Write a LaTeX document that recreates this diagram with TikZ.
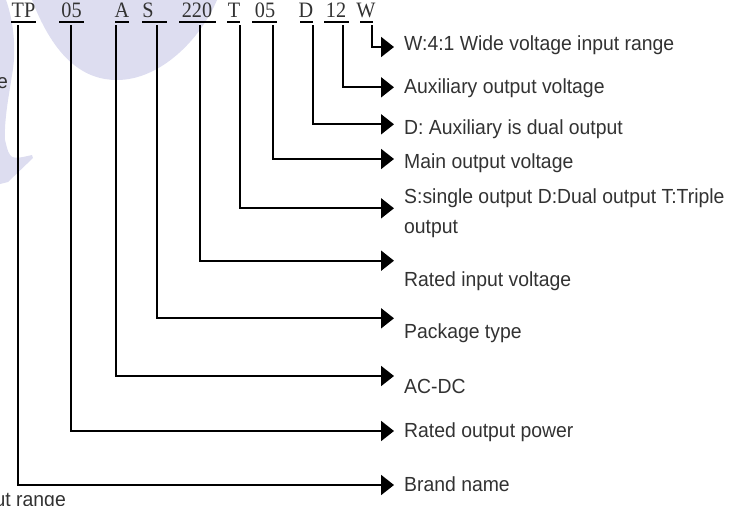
\documentclass[tikz,border=0pt]{standalone}
\usepackage{fontspec}
\setmainfont{Liberation Sans}
\newfontfamily\codefont{Liberation Serif}
\usetikzlibrary{arrows.meta}
\definecolor{wmark}{RGB}{221,221,240}
\definecolor{txt}{RGB}{50,50,50}
\tikzset{
    code/.style={anchor=base,inner sep=0pt,text=txt,xscale=0.92,transform shape,font=\codefont\fontsize{22}{22}\selectfont},
    lbl/.style={anchor=base west,inner sep=0pt,text=txt,xscale=0.95,transform shape,font=\fontsize{20.4}{30}\selectfont,align=left},
    uline/.style={line width=2pt},
    lead/.style={line width=2pt,-{Triangle[length=13pt,width=20pt]}},
}

\begin{document}
\begin{tikzpicture}[x=1pt,y=-1pt]
    \useasboundingbox (0,0) rectangle (747,506);
    \pgfmathsetmacro{\tx}{394}	%arrow tips
    \pgfmathsetmacro{\lx}{404}	%labels
    \pgfmathsetmacro{\sy}{25}	%leads start

    % watermark
    \fill[wmark] (32,0) .. controls (55,60) and (85,80) .. (117,80) .. controls (160,80) and (200,40) .. (217,0) -- cycle;
    \fill[wmark] (0,0) -- (6,0) .. controls (15,25) and (16,55) .. (12,75) .. controls (9,95) and (4,120) .. (5,140) .. controls (10,160) .. (32,155) -- (33,158) .. controls (20,170) .. (8,182) -- (0,184) -- cycle;

    % cut-off texts
    \node[lbl,anchor=base east] (fragA) at (8,88) {e};
    \node[lbl,anchor=base east] (fragB) at (66,506.5) {ut range};

    % model code
    \node[code] (cTP) at (23.5,17) {TP};
    \node[code] (cPow) at (71.5,17) {05};
    \node[code] (cAC) at (122,17) {A};
    \node[code] (cPkg) at (148,17) {S};
    \node[code] (cVin) at (197,17) {220};
    \node[code] (cOut) at (234,17) {T};
    \node[code] (cVo) at (265,17) {05};
    \node[code] (cDual) at (306,17) {D};
    \node[code] (cAux) at (336,17) {12};
    \node[code] (cWide) at (366,17) {W};
    \foreach \a/\b in {11/36,59/84,115/129,142/167,179/216,227/240,252/277,300/313,324/349,360/373}
        \draw[uline] (\a,22) -- (\b,22);

    % meanings
    \node[lbl] (lWide) at (\lx,50) {W:4:1 Wide voltage input range};
    \node[lbl] (lAux) at (\lx,93) {Auxiliary output voltage};
    \node[lbl] (lDual) at (\lx,134) {D: Auxiliary is dual output};
    \node[lbl] (lVo) at (\lx,168) {Main output voltage};
    \node[lbl] (lOut) at (\lx,233) {S:single output D:Dual output T:Triple\\output};
    \node[lbl] (lVin) at (\lx,286) {Rated input voltage};
    \node[lbl] (lPkg) at (\lx,338) {Package type};
    \node[lbl] (lAC) at (\lx,393) {AC-DC};
    \node[lbl] (lPow) at (\lx,437) {Rated output power};
    \node[lbl] (lBrand) at (\lx,491) {Brand name};

    \coordinate (sTP) at (18,\sy);
    \coordinate (sPow) at (70.7,\sy);
    \coordinate (sAC) at (116.3,\sy);
    \coordinate (sPkg) at (157.3,\sy);
    \coordinate (sVin) at (200,\sy);
    \coordinate (sOut) at (239.7,\sy);
    \coordinate (sVo) at (273.3,\sy);
    \coordinate (sDual) at (312.7,\sy);
    \coordinate (sAux) at (342.7,\sy);
    \coordinate (sWide) at (371.7,\sy);

    \coordinate (tWide) at (\tx,47);
    \coordinate (tAux) at (\tx,87.3);
    \coordinate (tDual) at (\tx,124.3);
    \coordinate (tVo) at (\tx,159);
    \coordinate (tOut) at (\tx,208.3);
    \coordinate (tVin) at (\tx,260.7);
    \coordinate (tPkg) at (\tx,318.3);
    \coordinate (tAC) at (\tx,376);
    \coordinate (tPow) at (\tx,431);
    \coordinate (tBrand) at (\tx,485);

    \draw[lead] (sWide) |- (tWide);
    \draw[lead] (sAux) |- (tAux);
    \draw[lead] (sDual) |- (tDual);
    \draw[lead] (sVo) |- (tVo);
    \draw[lead] (sOut) |- (tOut);
    \draw[lead] (sVin) |- (tVin);
    \draw[lead] (sPkg) |- (tPkg);
    \draw[lead] (sAC) |- (tAC);
    \draw[lead] (sPow) |- (tPow);
    \draw[lead] (sTP) |- (tBrand);
\end{tikzpicture}
\end{document}
